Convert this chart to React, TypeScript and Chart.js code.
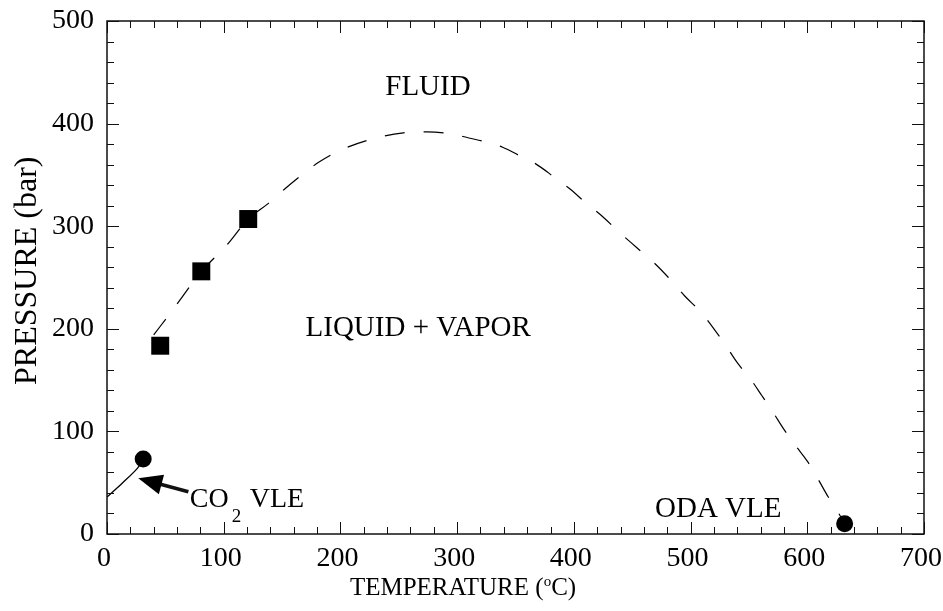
import React, { useEffect, useRef } from 'react';
import { Chart, registerables } from 'chart.js';

Chart.register(...registerables);

// ---- data ----
const co2VleT = [0, 13, 26, 31];
const co2VleP = [36, 49.5, 64, 73];
const co2CritT = [31];
const co2CritP = [73];
const odaCritT = [632];
const odaCritP = [10];
const mixT = [45.6, 80.8, 121];
const mixP = [183.5, 256, 307];
const locusT = [40, 56, 81, 103, 121, 138, 152, 167, 181, 200, 224, 254, 274, 295, 310, 325, 339, 353, 367, 383, 397, 410, 425, 439, 454, 469, 481, 495, 509, 520, 530, 540, 552, 561, 571, 580, 590, 600, 609, 618, 627, 632];
const locusP = [194, 218, 256, 282, 307, 322, 336, 350, 362, 374, 384, 391, 392, 390, 386, 382, 377, 369, 361, 348, 336, 323, 309, 294, 279, 264, 250, 232, 216, 200, 184, 167, 150, 135, 118, 102, 86, 71, 54, 36, 20, 10];
const xTickLabels = [0, 100, 200, 300, 400, 500, 600, 700];
const yTickLabels = [0, 100, 200, 300, 400, 500];

const regionLabels = [
  { text: 'FLUID', x: 275, y: 435 },
  { text: 'LIQUID + VAPOR', x: 266.6, y: 200.8 },
  { text: 'ODA VLE', x: 523.7, y: 24.4 },
];
const co2Label = { x: 71, y: 26.3 };
const co2Arrow = { fromX: 69.7, fromY: 41.2, toX: 26.8, toY: 54.3 };

const FONT = '"Liberation Serif", "Times New Roman", serif';

const pts = (xs: number[], ys: number[]) => xs.map((x, i) => ({ x, y: ys[i] }));

const decorPlugin = {
  id: 'decor',
  afterDraw(chart: any) {
    const { ctx, chartArea: a, scales } = chart;
    const xs = scales.x;
    const ys = scales.y;
    ctx.save();
    ctx.strokeStyle = '#111';
    ctx.lineWidth = 1;
    // tick marks on all sides (inside)
    for (let v = 0; v <= 700; v += 20) {
      const px = Math.round(xs.getPixelForValue(v)) + 0.5;
      const len = v % 100 === 0 ? 12 : 7;
      ctx.beginPath();
      ctx.moveTo(px, a.bottom);
      ctx.lineTo(px, a.bottom - len);
      ctx.moveTo(px, a.top);
      ctx.lineTo(px, a.top + len);
      ctx.stroke();
    }
    for (let v = 0; v <= 500; v += 20) {
      const py = Math.round(ys.getPixelForValue(v)) + 0.5;
      const len = v % 100 === 0 ? 12 : 7;
      ctx.beginPath();
      ctx.moveTo(a.left, py);
      ctx.lineTo(a.left + len, py);
      ctx.moveTo(a.right, py);
      ctx.lineTo(a.right - len, py);
      ctx.stroke();
    }
    // frame
    ctx.lineWidth = 1.5;
    ctx.strokeRect(a.left, a.top, a.right - a.left, a.bottom - a.top);

    ctx.fillStyle = '#000';
    // region labels
    ctx.font = `29px ${FONT}`;
    ctx.textAlign = 'center';
    ctx.textBaseline = 'middle';
    for (const l of regionLabels) {
      ctx.fillText(l.text, xs.getPixelForValue(l.x), ys.getPixelForValue(l.y));
    }
    // CO2 VLE label
    ctx.textAlign = 'left';
    ctx.textBaseline = 'alphabetic';
    const lx = xs.getPixelForValue(co2Label.x);
    const ly = ys.getPixelForValue(co2Label.y);
    ctx.font = `28px ${FONT}`;
    ctx.fillText('CO', lx, ly);
    const wCO = ctx.measureText('CO').width;
    ctx.font = `19px ${FONT}`;
    ctx.fillText('2', lx + wCO + 3, ly + 15);
    ctx.font = `28px ${FONT}`;
    ctx.fillText('VLE', lx + wCO + 21, ly);

    // arrow
    const fx = xs.getPixelForValue(co2Arrow.fromX);
    const fy = ys.getPixelForValue(co2Arrow.fromY);
    const tx = xs.getPixelForValue(co2Arrow.toX);
    const ty = ys.getPixelForValue(co2Arrow.toY);
    const dx = tx - fx, dy = ty - fy;
    const L = Math.hypot(dx, dy);
    const ux = dx / L, uy = dy / L;
    const nx = -uy, ny = ux;
    const headLen = 24, headHalf = 10;
    const bx = tx - ux * headLen, by = ty - uy * headLen;
    ctx.lineWidth = 3.5;
    ctx.beginPath();
    ctx.moveTo(fx, fy);
    ctx.lineTo(bx + ux * 2, by + uy * 2);
    ctx.stroke();
    ctx.beginPath();
    ctx.moveTo(tx, ty);
    ctx.lineTo(bx + nx * headHalf, by + ny * headHalf);
    ctx.lineTo(bx - nx * headHalf, by - ny * headHalf);
    ctx.closePath();
    ctx.fill();

    // x title
    ctx.textBaseline = 'alphabetic';
    ctx.textAlign = 'left';
    const part1 = 'TEMPERATURE (';
    const part3 = 'C)';
    ctx.font = `25px ${FONT}`;
    const w1 = ctx.measureText(part1).width;
    const w3 = ctx.measureText(part3).width;
    ctx.font = `15px ${FONT}`;
    const w2 = ctx.measureText('o').width;
    const total = w1 + w2 + w3;
    const cx = 463;
    const base = 595;
    let sx = cx - total / 2;
    ctx.font = `25px ${FONT}`;
    ctx.fillText(part1, sx, base);
    sx += w1;
    ctx.font = `15px ${FONT}`;
    ctx.fillText('o', sx, base - 9);
    sx += w2;
    ctx.font = `25px ${FONT}`;
    ctx.fillText(part3, sx, base);

    // y title
    ctx.save();
    ctx.font = `32px ${FONT}`;
    ctx.translate(36, 385);
    ctx.rotate(-Math.PI / 2);
    ctx.textAlign = 'left';
    ctx.textBaseline = 'alphabetic';
    ctx.fillText('PRESSURE (bar)', 0, 0);
    ctx.restore();

    ctx.restore();
  },
};

export default function App() {
  const ref = useRef<HTMLCanvasElement | null>(null);
  useEffect(() => {
    if (!ref.current) return;
    const chart = new Chart(ref.current, {
      type: 'scatter',
      data: {
        datasets: [
          {
            label: 'CO2 VLE',
            data: pts(co2VleT, co2VleP),
            showLine: true,
            borderColor: '#000',
            borderWidth: 1.3,
            pointRadius: 0,
            tension: 0.3,
          },
          {
            label: 'Critical locus',
            data: pts(locusT, locusP),
            showLine: true,
            borderColor: '#000',
            borderWidth: 1.2,
            borderDash: [20, 19],
            pointRadius: 0,
            cubicInterpolationMode: 'monotone',
          },
          {
            label: 'Mixture critical points',
            data: pts(mixT, mixP),
            pointStyle: 'rect',
            pointRadius: 12.7,
            backgroundColor: '#000',
            borderColor: '#000',
            borderWidth: 0,
          },
          {
            label: 'CO2 critical',
            data: pts(co2CritT, co2CritP),
            pointStyle: 'circle',
            pointRadius: 8.5,
            backgroundColor: '#000',
            borderColor: '#000',
            borderWidth: 0,
          },
          {
            label: 'ODA critical',
            data: pts(odaCritT, odaCritP),
            pointStyle: 'circle',
            pointRadius: 8.5,
            backgroundColor: '#000',
            borderColor: '#000',
            borderWidth: 0,
          },
        ],
      } as any,
      options: {
        responsive: false,
        animation: false,
        events: [],
        layout: { padding: { left: 0, right: 19, top: 21, bottom: 0 } },
        plugins: {
          legend: { display: false },
          tooltip: { enabled: false },
          title: { display: false },
        },
        scales: {
          x: {
            type: 'linear',
            min: 0,
            max: 700,
            afterFit: (s: any) => {
              s.height = 77;
              s.paddingLeft = 0;
              s.paddingRight = 0;
            },
            afterBuildTicks: (s: any) => {
              s.ticks = xTickLabels.map((v) => ({ value: v }));
            },
            grid: { display: false, drawTicks: false },
            border: { display: false },
            ticks: {
              color: '#000',
              padding: 8,
              maxRotation: 0,
              labelOffset: -3,
              font: { family: FONT, size: 28 },
            },
          },
          y: {
            type: 'linear',
            min: 0,
            max: 500,
            afterFit: (s: any) => {
              s.width = 107;
              s.paddingTop = 0;
              s.paddingBottom = 0;
            },
            afterBuildTicks: (s: any) => {
              s.ticks = yTickLabels.map((v) => ({ value: v }));
            },
            grid: { display: false, drawTicks: false },
            border: { display: false },
            ticks: {
              color: '#000',
              padding: 13,
              font: { family: FONT, size: 28 },
            },
          },
        },
      } as any,
      plugins: [decorPlugin],
    });
    return () => chart.destroy();
  }, []);
  return (
    <canvas
      ref={ref}
      width={943}
      height={611}
      style={{ position: 'absolute', left: 0, top: 0, display: 'block', background: '#fff' }}
    />
  );
}
